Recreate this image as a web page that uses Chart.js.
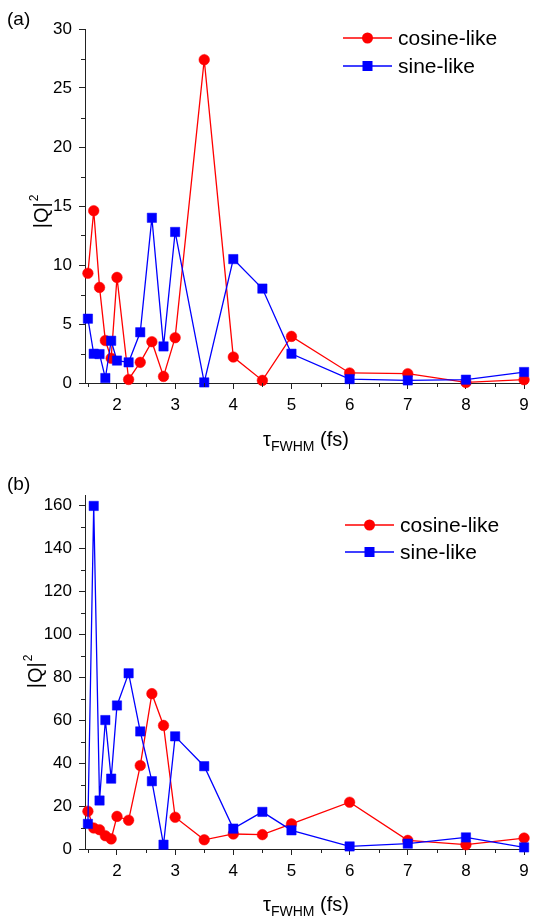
<!DOCTYPE html>
<html>
<head>
<meta charset="utf-8">
<script src="https://cdn.jsdelivr.net/npm/chart.js@4.4.1/dist/chart.umd.min.js"></script>
<style>
  body { margin: 0; background: #fff; }
  .panel { position: absolute; left: 0; }
  #panelA { top: 0; }
  #panelB { top: 460px; }
</style>
</head>
<body>
<div class="panel" id="panelA"><canvas id="chartA" width="538" height="460"></canvas></div>
<div class="panel" id="panelB"><canvas id="chartB" width="538" height="457"></canvas></div>
<script>
// pulse duration tau_FWHM (fs)
const tauValues = [1.5, 1.6, 1.7, 1.8, 1.9, 2.0, 2.2, 2.4, 2.6, 2.8, 3.0, 3.5, 4.0, 4.5, 5, 6, 7, 8, 9];

// panel (a)
const cosineA = [9.3, 14.6, 8.1, 3.6, 2.1, 8.95, 0.3, 1.75, 3.5, 0.56, 3.84, 27.4, 2.2, 0.22, 3.95, 0.85, 0.79, 0.05, 0.28];
const sineA = [5.45, 2.48, 2.45, 0.42, 3.58, 1.9, 1.75, 4.3, 14.0, 3.1, 12.8, 0.05, 10.5, 8.0, 2.48, 0.33, 0.22, 0.28, 0.93];

// panel (b)
const cosineB = [17.6, 9.8, 9.0, 6.2, 4.7, 15.2, 13.4, 38.9, 72.4, 57.6, 14.8, 4.3, 7.0, 6.7, 11.7, 21.8, 4.0, 2.0, 5.1];
const sineB = [11.7, 159.9, 22.6, 60.1, 32.8, 66.9, 81.9, 54.8, 31.6, 2.0, 52.5, 38.6, 9.5, 17.3, 8.7, 1.2, 2.5, 5.4, 0.75];

// ticks
const xTicks = [2, 3, 4, 5, 6, 7, 8, 9];
const xMinorTicks = [1.5, 2.5, 3.5, 4.5, 5.5, 6.5, 7.5, 8.5];
const yTicksA = [0, 5, 10, 15, 20, 25, 30];
const yMinorTicksA = [2.5, 7.5, 12.5, 17.5, 22.5, 27.5];
const yTicksB = [0, 20, 40, 60, 80, 100, 120, 140, 160];
const yMinorTicksB = [10, 30, 50, 70, 90, 110, 130, 150];

const seriesLabels = ['cosine-like', 'sine-like'];
const seriesColors = ['#ff0000', '#0000ff'];

const FONT = '"Liberation Sans", Arial, sans-serif';
const AXIS_COLOR = '#222222';

function toPoints(values) {
    return tauValues.map((t, i) => ({ x: t, y: values[i] }));
}

// draws minor ticks, panel letter, axis titles and legend
const decorPlugin = {
    id: 'decor',
    afterDraw(chart, args, opts) {
        const ctx = chart.ctx;
        const area = chart.chartArea;
        const xs = chart.scales.x;
        const ys = chart.scales.y;
        ctx.save();

        // minor ticks
        ctx.strokeStyle = AXIS_COLOR;
        ctx.lineWidth = 1;
        ctx.beginPath();
        opts.xMinor.forEach(v => {
            const px = Math.round(xs.getPixelForValue(v)) + 0.5;
            ctx.moveTo(px, area.bottom);
            ctx.lineTo(px, area.bottom + 4);
        });
        opts.yMinor.forEach(v => {
            const py = Math.round(ys.getPixelForValue(v)) + 0.5;
            ctx.moveTo(area.left, py);
            ctx.lineTo(area.left - 4, py);
        });
        ctx.stroke();

        ctx.fillStyle = '#000';

        // panel letter
        ctx.font = '19px ' + FONT;
        ctx.textAlign = 'left';
        ctx.textBaseline = 'middle';
        ctx.fillText(opts.panelLabel, 7, opts.panelLabelY);

        // y title |Q|^2
        ctx.save();
        ctx.translate(opts.yTitleX, (area.top + area.bottom) / 2 + opts.yTitleShift);
        ctx.rotate(-Math.PI / 2);
        ctx.font = '20px ' + FONT;
        const wq = ctx.measureText('|Q|').width;
        ctx.font = '12px ' + FONT;
        const w2 = ctx.measureText('2').width;
        const start = -(wq + w2) / 2;
        ctx.font = '20px ' + FONT;
        ctx.textBaseline = 'alphabetic';
        ctx.fillText('|Q|', start, 7);
        ctx.font = '12px ' + FONT;
        ctx.fillText('2', start + wq + 1, -3);
        ctx.restore();

        // x title tau_FWHM (fs)
        ctx.textBaseline = 'alphabetic';
        ctx.font = '20px ' + FONT;
        const wt = ctx.measureText('\u03c4').width;
        const wp = ctx.measureText(' (fs)').width;
        ctx.font = '14px ' + FONT;
        const ws = ctx.measureText('FWHM').width;
        let tx = (area.left + area.right) / 2 - (wt + ws + wp) / 2;
        ctx.font = '20px ' + FONT;
        ctx.fillText('\u03c4', tx, opts.xTitleY);
        tx += wt;
        ctx.font = '14px ' + FONT;
        ctx.fillText('FWHM', tx, opts.xTitleY + 5);
        tx += ws;
        ctx.font = '20px ' + FONT;
        ctx.fillText(' (fs)', tx, opts.xTitleY);

        // legend
        chart.data.datasets.forEach((ds, i) => {
            const ly = opts.legendY + i * opts.legendGap;
            const lx = opts.legendX;
            ctx.strokeStyle = ds.borderColor;
            ctx.lineWidth = 1.3;
            ctx.beginPath();
            ctx.moveTo(lx, ly);
            ctx.lineTo(lx + 49, ly);
            ctx.stroke();
            ctx.fillStyle = ds.backgroundColor;
            ctx.beginPath();
            if (ds.pointStyle === 'rect') {
                ctx.rect(lx + 24.5 - 5, ly - 5, 10, 10);
            } else {
                ctx.arc(lx + 24.5, ly, 5.5, 0, Math.PI * 2);
            }
            ctx.fill();
            ctx.fillStyle = '#000';
            ctx.font = '21px ' + FONT;
            ctx.textBaseline = 'middle';
            ctx.fillText(ds.label, lx + 55, ly + 1);
        });

        ctx.restore();
    }
};

function makePanel(canvasId, cosine, sine, yTicks, yMax, layout, decor) {
    const ctx = document.getElementById(canvasId);
    return new Chart(ctx, {
        type: 'scatter',
        data: {
            datasets: [{
                label: seriesLabels[0],
                data: toPoints(cosine),
                showLine: true,
                borderColor: seriesColors[0],
                backgroundColor: seriesColors[0],
                borderWidth: 1.3,
                pointStyle: 'circle',
                pointRadius: 5.3,
                pointBorderWidth: 0.5,
                pointHoverRadius: 5.3,
                clip: false,
                order: 1
            }, {
                label: seriesLabels[1],
                data: toPoints(sine),
                showLine: true,
                borderColor: seriesColors[1],
                backgroundColor: seriesColors[1],
                borderWidth: 1.3,
                pointStyle: 'rect',
                pointRadius: 6.6,
                pointBorderWidth: 0.5,
                pointHoverRadius: 6.6,
                clip: false,
                order: 0
            }]
        },
        options: {
            responsive: false,
            animation: false,
            events: [],
            layout: {
                padding: { top: layout.top, right: 11, left: 0, bottom: 0 }
            },
            plugins: {
                legend: { display: false },
                tooltip: { enabled: false },
                decor: decor
            },
            scales: {
                x: {
                    type: 'linear',
                    min: 1.45,
                    max: 9.05,
                    afterFit: scale => { scale.height = layout.xAxisHeight; },
                    afterBuildTicks: scale => { scale.ticks = xTicks.map(v => ({ value: v })); },
                    ticks: {
                        color: '#000',
                        padding: 6,
                        font: { family: FONT, size: 17 },
                        callback: v => String(v)
                    },
                    grid: {
                        drawOnChartArea: false,
                        drawTicks: true,
                        tickLength: 6,
                        color: AXIS_COLOR
                    },
                    border: { display: true, color: AXIS_COLOR, width: 1 }
                },
                y: {
                    type: 'linear',
                    min: 0,
                    max: yMax,
                    afterFit: scale => { scale.width = 85; },
                    afterBuildTicks: scale => { scale.ticks = yTicks.map(v => ({ value: v })); },
                    ticks: {
                        color: '#000',
                        padding: 7,
                        font: { family: FONT, size: 17 },
                        callback: v => String(v)
                    },
                    grid: {
                        drawOnChartArea: false,
                        drawTicks: true,
                        tickLength: 6,
                        color: AXIS_COLOR
                    },
                    border: { display: true, color: AXIS_COLOR, width: 1 }
                }
            }
        },
        plugins: [decorPlugin]
    });
}

makePanel('chartA', cosineA, sineA, yTicksA, 30,
    { top: 29, xAxisHeight: 77 },
    {
        panelLabel: '(a)', panelLabelY: 20,
        xMinor: xMinorTicks, yMinor: yMinorTicksA,
        yTitleX: 41, yTitleShift: 6,
        xTitleY: 446,
        legendX: 343, legendY: 38, legendGap: 28
    });

makePanel('chartB', cosineB, sineB, yTicksB, 165,
    { top: 35, xAxisHeight: 68 },
    {
        panelLabel: '(b)', panelLabelY: 25,
        xMinor: xMinorTicks, yMinor: yMinorTicksB,
        yTitleX: 35, yTitleShift: 0,
        xTitleY: 451,
        legendX: 345, legendY: 65, legendGap: 27
    });
</script>
</body>
</html>
